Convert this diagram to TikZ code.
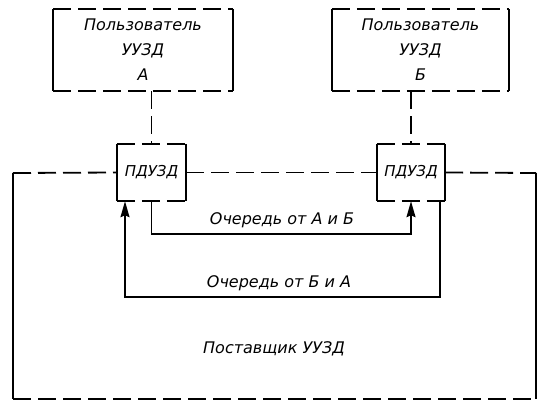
\documentclass[tikz,border=0pt]{standalone}
\usepackage{fontspec}
\setmainfont{DejaVu Sans}
\usetikzlibrary{arrows.meta}

\begin{document}
\begin{tikzpicture}[x=1pt, y=-1pt, font=\fontsize{16}{25}\selectfont\itshape,
  >={Stealth[length=16pt, width=9pt, inset=2pt]},
  box/.style={draw=none, inner sep=0pt, align=center},
  dashline/.style={line width=1.8pt, dash pattern=on 18pt off 7pt},
  side/.style={line width=1.8pt},
  flow/.style={line width=1.8pt, ->}]
% geometry: pixel grid, 538 x 402, y grows downwards
\useasboundingbox (0,0) rectangle (538,402);

% ---- users and interfaces ----
\node[box, minimum width=179pt, minimum height=82pt] (userA) at (143,50) {Пользователь\\УУЗД\\А};
\node[box, minimum width=177pt, minimum height=82pt] (userB) at (420.5,50) {Пользователь\\УУЗД\\Б};
\node[box, minimum width=69pt, minimum height=57pt, font=\fontsize{15}{18}\selectfont\itshape] (pduA) at (151.5,172.5) {ПДУЗД};
\node[box, minimum width=68pt, minimum height=57pt, font=\fontsize{15}{18}\selectfont\itshape] (pduB) at (411,172.5) {ПДУЗД};

% ---- box borders: dashed tops and bottoms, solid sides ----
\foreach \n in {userA, userB, pduA, pduB}{
  \draw[dashline] (\n.north west) -- (\n.north east);
  \draw[dashline] (\n.south west) -- (\n.south east);
  \draw[side] (\n.north west) -- (\n.south west);
  \draw[side] (\n.north east) -- (\n.south east);
}
\draw[dashline] (pduA.north |- userA.south) -- (pduA.north);
\draw[dashline] (pduB.north |- userB.south) -- (pduB.north);

% ---- supplier frame ----
\coordinate (fNW) at (13,173);
\coordinate (fNE) at (536,173);
\coordinate (fSW) at (13,399);
\coordinate (fSE) at (536,399);
\draw[dashline] (fNW) -- (pduA.west);
\draw[dashline] (pduA.east) -- (pduB.west);
\draw[dashline] (pduB.east) -- (fNE);
\draw[side] (fNW) -- (fSW);
\draw[side] (fNE) -- (fSE);
\draw[dashline] (fSW) -- (fSE);

% ---- queues ----
\draw[flow] (pduA.south) -- ++(0,33) -| (pduB.south);
\draw[flow] ([xshift=29pt]pduB.south) -- ++(0,96) -| ([xshift=-26.5pt]pduA.south);

\node[anchor=south] (qAB) at (282,231) {Очередь от А и Б};
\node[anchor=south] (qBA) at (279,294) {Очередь от Б и А};
\node (supp) at (274,349) {Поставщик УУЗД};
\end{tikzpicture}
\end{document}
